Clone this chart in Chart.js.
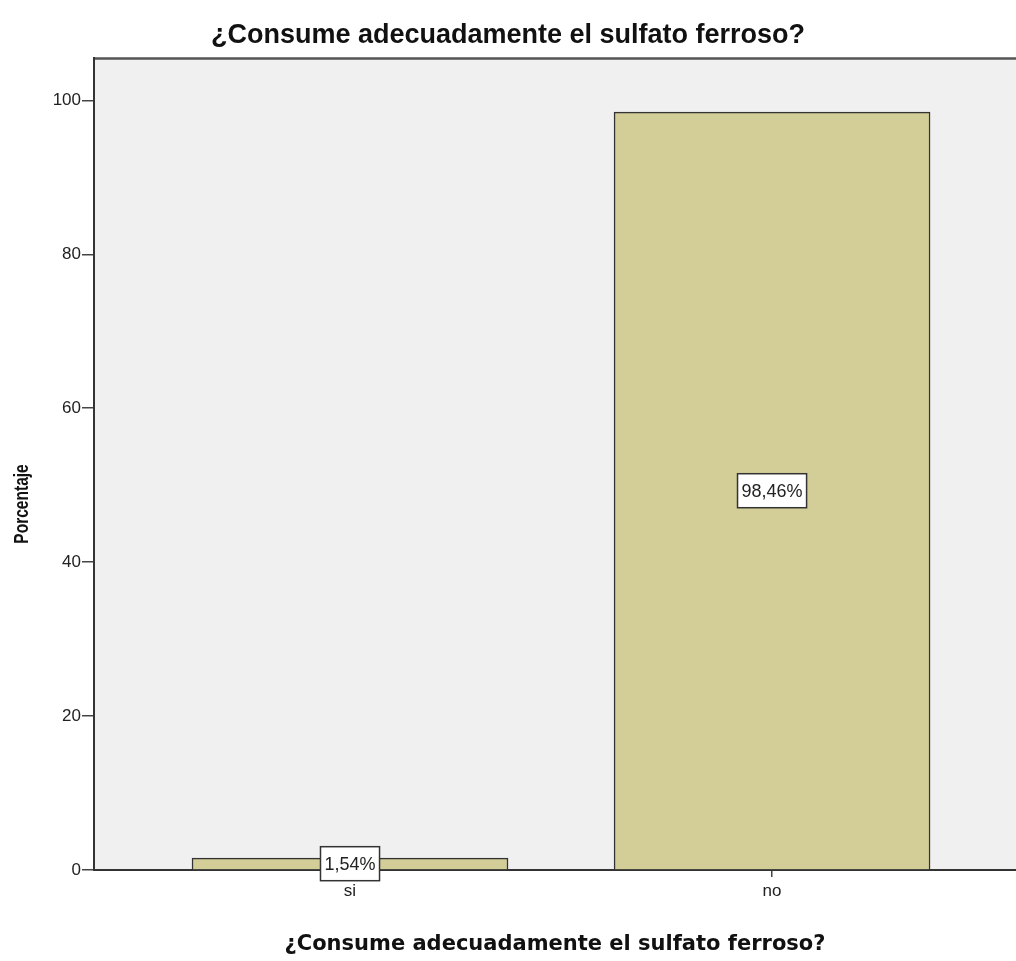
<!DOCTYPE html>
<html>
<head>
<meta charset="utf-8">
<script src="https://cdn.jsdelivr.net/npm/chart.js@4/dist/chart.umd.min.js"></script>
<style>
html, body { margin: 0; padding: 0; background: #fff; overflow: hidden; }
#wrap { width: 1016px; height: 961px; }
</style>
</head>
<body>
<div id="wrap"><canvas id="chart"></canvas></div>
<script>
var categories = ['si', 'no'];
var porcentajes = [1.54, 98.46];
var etiquetas = ['1,54%', '98,46%'];
var yTicks = [0, 20, 40, 60, 80, 100];
var titulo = '¿Consume adecuadamente el sulfato ferroso?';
var tituloY = 'Porcentaje';

var ctx = document.getElementById('chart');

// fondo gris del área de trazado, borde superior y título del eje Y
var fondo = {
	id: 'fondo',
	beforeDraw: function(chart) {
		var a = chart.chartArea, c = chart.ctx;
		c.save();
		c.fillStyle = '#f0f0f0';
		c.fillRect(a.left, a.top, a.right - a.left, a.bottom - a.top);
		c.strokeStyle = '#555';
		c.lineWidth = 2.5;
		c.beginPath();
		c.moveTo(a.left, a.top);
		c.lineTo(a.right, a.top);
		c.stroke();
		c.translate(22, 504);
		c.rotate(-Math.PI / 2);
		c.scale(0.74, 1);
		c.font = 'bold 21px "Liberation Sans", Arial, sans-serif';
		c.fillStyle = '#111';
		c.textAlign = 'center';
		c.textBaseline = 'middle';
		c.fillText(tituloY, 0, 0);
		c.restore();
	}
};

// cajas de porcentaje en el centro de cada barra
var cajas = {
	id: 'cajas',
	afterDatasetsDraw: function(chart) {
		var c = chart.ctx;
		var meta = chart.getDatasetMeta(0);
		c.save();
		c.font = '18px "Liberation Sans", Arial, sans-serif';
		c.textAlign = 'center';
		c.textBaseline = 'middle';
		meta.data.forEach(function(bar, i) {
			var txt = etiquetas[i];
			var y = (bar.y + bar.base) / 2;
			var w = c.measureText(txt).width + 8;
			var h = 34;
			c.fillStyle = '#fff';
			c.fillRect(bar.x - w / 2, y - h / 2, w, h);
			c.strokeStyle = '#333';
			c.lineWidth = 1.5;
			c.strokeRect(bar.x - w / 2, y - h / 2, w, h);
			c.fillStyle = '#222';
			c.fillText(txt, bar.x, y + 1);
		});
		c.restore();
	}
};

var chart = new Chart(ctx, {
	type: 'bar',
	data: {
		datasets: [{
			data: porcentajes.map(function(v, i) { return { x: i, y: v }; }),
			backgroundColor: '#d3ce98',
			borderColor: '#333',
			borderWidth: 1.5,
			barThickness: 316
		}]
	},
	plugins: [fondo, cajas],
	options: {
		responsive: true,
		maintainAspectRatio: false,
		animation: false,
		layout: { padding: 0 },
		plugins: {
			legend: { display: false },
			tooltip: { enabled: false },
			title: {
				display: true,
				text: titulo,
				color: '#111',
				font: { family: '"Liberation Sans", Arial, sans-serif', size: 27, weight: 'bold', lineHeight: 1.2 },
				padding: { top: 19, bottom: 7 }
			}
		},
		scales: {
			x: {
				type: 'linear',
				offset: false,
				min: -0.6066,
				max: 1.578,
				afterBuildTicks: function(s) {
					s.ticks = categories.map(function(c, i) { return { value: i }; });
				},
				afterFit: function(s) { s.height = 91; },
				ticks: {
					callback: function(v) { return categories[v]; },
					color: '#222',
					font: { family: '"Liberation Sans", Arial, sans-serif', size: 17 },
					padding: 4,
					maxRotation: 0
				},
				grid: { offset: false, drawOnChartArea: false, tickLength: 7, color: '#444', lineWidth: 1.5 },
				border: { color: '#333', width: 2 },
				title: {
					display: true,
					text: titulo,
					color: '#111',
					font: { family: '"DejaVu Sans", sans-serif', size: 21, weight: 'bold' },
					padding: { top: 0, bottom: 4 }
				}
			},
			y: {
				min: 0,
				max: 105.45,
				afterBuildTicks: function(s) {
					s.ticks = yTicks.map(function(v) { return { value: v }; });
				},
				afterFit: function(s) { s.width = 94; },
				ticks: {
					color: '#222',
					font: { family: '"Liberation Sans", Arial, sans-serif', size: 17 },
					padding: 1
				},
				grid: { drawOnChartArea: false, tickLength: 12, color: '#444', lineWidth: 1.5 },
				border: { color: '#333', width: 2 },
				title: { display: false }
			}
		}
	}
});
</script>
</body>
</html>
